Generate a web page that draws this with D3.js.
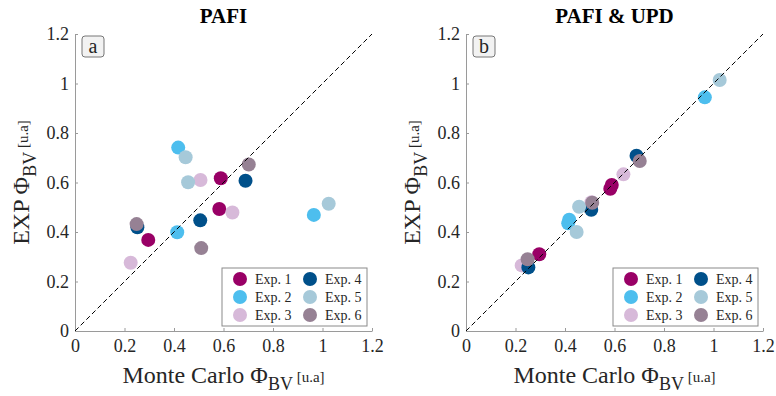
<!DOCTYPE html>
<html>
<head>
<meta charset="utf-8">
<script src="https://cdn.jsdelivr.net/npm/d3@7"></script>
<style>
  body { margin: 0; background: #fff; }
  svg { font-family: "Liberation Serif", "DejaVu Serif", serif; }
</style>
</head>
<body>
<div id="chart"></div>
<script>
// series names and colours
const expNames = ['Exp. 1', 'Exp. 2', 'Exp. 3', 'Exp. 4', 'Exp. 5', 'Exp. 6'];
const expColors = ['#990066', '#4dbeee', '#d7b9d9', '#00508a', '#a6c9d9', '#968194'];

// Monte Carlo values (shared by both panels), three per experiment
const mcX = [
  [0.589, 0.583, 0.296],
  [0.417, 0.413, 0.965],
  [0.507, 0.636, 0.225],
  [0.689, 0.506, 0.252],
  [0.447, 0.457, 1.025],
  [0.702, 0.249, 0.510]
];
// measured values, PAFI only
const expPafi = [
  [0.617, 0.493, 0.368],
  [0.741, 0.399, 0.469],
  [0.610, 0.479, 0.276],
  [0.607, 0.447, 0.419],
  [0.702, 0.601, 0.514],
  [0.673, 0.432, 0.335]
];
// measured values, PAFI & UPD
const expPafiUpd = [
  [0.590, 0.575, 0.310],
  [0.450, 0.435, 0.944],
  [0.520, 0.633, 0.265],
  [0.708, 0.490, 0.257],
  [0.400, 0.502, 1.014],
  [0.687, 0.290, 0.518]
];
const tickVals = [0, 0.2, 0.4, 0.6, 0.8, 1, 1.2];

const W = 776, H = 396;
const svg = d3.select('#chart').append('svg')
  .attr('width', W)
  .attr('height', H);

function drawPanel(left, title, tag, yVals) {
  const plotW = 297, top = 34, plotH = 297;
  const x = d3.scaleLinear().domain([0, 1.2]).range([left, left + plotW]);
  const y = d3.scaleLinear().domain([0, 1.2]).range([top + plotH, top]);

  const g = svg.append('g');

  // x axis
  const xa = g.append('g')
    .attr('transform', `translate(0, ${top + plotH})`)
    .call(d3.axisBottom(x).tickValues(tickVals).tickSizeInner(-3).tickSizeOuter(0).tickPadding(8)
      .tickFormat(d3.format('~g')));
  // y axis
  const ya = g.append('g')
    .attr('transform', `translate(${left}, 0)`)
    .call(d3.axisLeft(y).tickValues(tickVals).tickSizeInner(-3).tickSizeOuter(0).tickPadding(6)
      .tickFormat(d3.format('~g')));
  [xa, ya].forEach(a => {
    a.select('.domain').attr('stroke', '#9a9a9a');
    a.selectAll('.tick line').attr('stroke', '#9a9a9a');
    a.selectAll('.tick text')
      .attr('fill', '#262626')
      .style('font-size', '18px')
      .style('font-family', '"Liberation Serif", serif');
  });

  // points
  expNames.forEach((name, i) => {
    g.selectAll(null)
      .data(mcX[i].map((v, j) => ({ x: v, y: yVals[i][j] })))
      .enter().append('circle')
      .attr('cx', d => x(d.x))
      .attr('cy', d => y(d.y))
      .attr('r', 7)
      .attr('fill', expColors[i]);
  });

  // 1:1 line
  g.append('line')
    .attr('x1', x(0)).attr('y1', y(0))
    .attr('x2', x(1.2)).attr('y2', y(1.2))
    .attr('stroke', '#000')
    .attr('stroke-width', 1)
    .attr('stroke-dasharray', '5,3');

  // title
  g.append('text')
    .attr('x', (x(0) + x(1.2)) / 2)
    .attr('y', 23)
    .attr('text-anchor', 'middle')
    .style('font-size', '21px')
    .style('font-weight', 'bold')
    .attr('fill', '#000')
    .text(title);

  // panel tag
  g.append('rect')
    .attr('x', left + 7).attr('y', 36)
    .attr('width', 22).attr('height', 21)
    .attr('rx', 3)
    .attr('fill', '#f2f2f2')
    .attr('stroke', '#777')
    .attr('stroke-width', 1);
  g.append('text')
    .attr('x', left + 18).attr('y', 53)
    .attr('text-anchor', 'middle')
    .style('font-size', '20px')
    .attr('fill', '#262626')
    .text(tag);

  // x label
  const xl = g.append('text')
    .attr('x', (x(0) + x(1.2)) / 2)
    .attr('y', 383)
    .attr('text-anchor', 'middle')
    .attr('fill', '#262626')
    .style('font-size', '24px');
  xl.append('tspan').text('Monte Carlo Φ');
  xl.append('tspan').attr('dy', 7).style('font-size', '18px').text('BV');
  xl.append('tspan').attr('dy', -8).style('font-size', '15px').text(' [u.a]');

  // y label
  const yl = g.append('text')
    .attr('transform', `translate(${left - 46}, ${(y(0) + y(1.2)) / 2}) rotate(-90)`)
    .attr('text-anchor', 'middle')
    .attr('fill', '#262626')
    .style('font-size', '24px');
  yl.append('tspan').text('EXP Φ');
  yl.append('tspan').attr('dy', 7).style('font-size', '18px').text('BV');
  yl.append('tspan').attr('dy', -8).style('font-size', '15px').text(' [u.a]');

  // legend
  const lx = x(1.2) - 150, ly = y(0) - 63;
  const lg = g.append('g').attr('transform', `translate(${lx}, ${ly})`);
  lg.append('rect')
    .attr('width', 145).attr('height', 58)
    .attr('fill', '#fff')
    .attr('stroke', '#8a8a8a')
    .attr('stroke-width', 1);
  expNames.forEach((name, i) => {
    const col = Math.floor(i / 3), row = i % 3;
    const item = lg.append('g')
      .attr('transform', `translate(${18 + col * 70}, ${11 + row * 18})`);
    item.append('circle').attr('r', 7).attr('fill', expColors[i]);
    item.append('text')
      .attr('x', 15).attr('dy', '0.35em')
      .style('font-size', '14px')
      .attr('fill', '#262626')
      .text(name);
  });
}

drawPanel(75, 'PAFI', 'a', expPafi);
drawPanel(466, 'PAFI & UPD', 'b', expPafiUpd);
</script>
</body>
</html>
